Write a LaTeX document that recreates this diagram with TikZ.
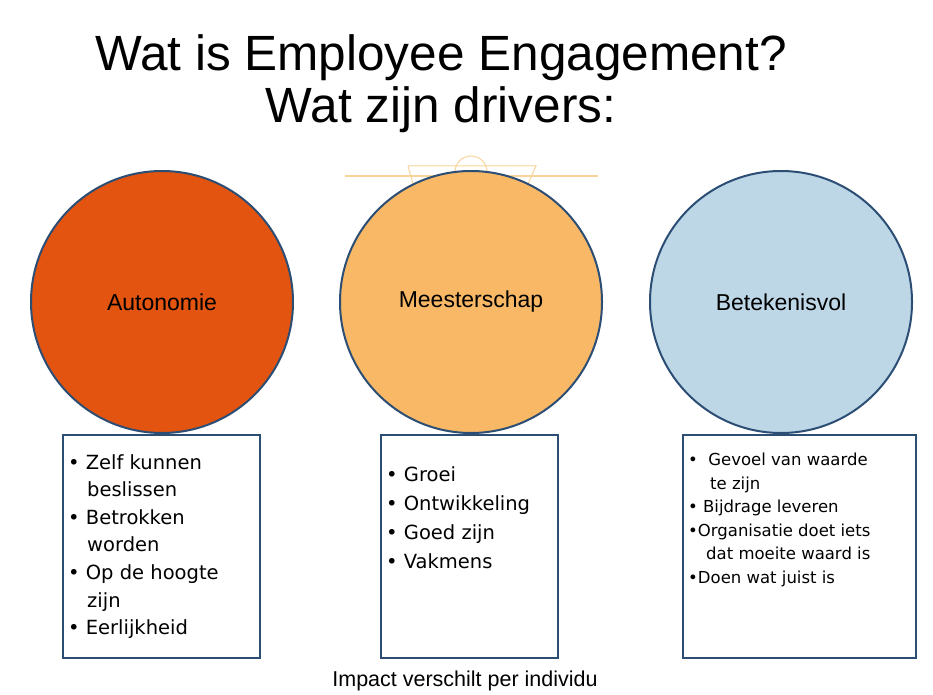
\documentclass[tikz,border=0pt]{standalone}
\usepackage{fontspec}
\setmainfont{Liberation Sans}
\newfontfamily\dv{DejaVu Sans}
\definecolor{cA}{HTML}{E2540F}
\definecolor{cB}{HTML}{F9B866}
\definecolor{cC}{HTML}{BDD7E7}
\definecolor{bd}{HTML}{2C4E75}
\definecolor{deco}{HTML}{F8D49A}
\begin{document}
\begin{tikzpicture}[x=1pt,y=-1pt,
  circ/.style={circle,draw=bd,line width=2pt,minimum size=262pt,inner sep=0pt,font=\fontsize{23}{27}\selectfont},
  lst/.style={anchor=north west,align=left,inner sep=0pt}]
\useasboundingbox (0,0) rectangle (933,695);
\node (t1) at (441,58) {\fontsize{49.5}{56}\selectfont Wat is Employee Engagement?};
\node (t2) at (441,110) {\fontsize{49.5}{56}\selectfont Wat zijn drivers:};
\draw[deco,line width=1.2pt] (345,176) -- (598,176);
\draw[deco,line width=1pt] (408,166) -- (536,166) -- (528,184) (408,166) -- (413,184);
\draw[deco,line width=1pt] (455,172) arc (180:360:16);
\node[circ,fill=cA] (a) at (162,302) {Autonomie};
\node[circ,fill=cB] (b) at (471,302) {Meesterschap};
\node[circ,fill=cC] (c) at (781,302) {Betekenisvol};
\draw[bd,line width=2pt] (63,435) rectangle (260,658);
\draw[bd,line width=2pt] (381,435) rectangle (558,658);
\draw[bd,line width=2pt] (683,435) rectangle (916,658);
\node[lst,font=\dv\fontsize{19.5}{27.6}\selectfont] (la) at (68,454) {%
\textbullet\ Zelf kunnen\\\hspace*{19pt}beslissen\\\textbullet\ Betrokken\\\hspace*{19pt}worden\\\textbullet\ Op de hoogte\\\hspace*{19pt}zijn\\\textbullet\ Eerlijkheid};
\node[lst,font=\dv\fontsize{19.5}{29}\selectfont] (lb) at (386,466) {%
\textbullet\ Groei\\\textbullet\ Ontwikkeling\\\textbullet\ Goed zijn\\\textbullet\ Vakmens};
\node[lst,font=\dv\fontsize{16.5}{23.5}\selectfont] (lc) at (688,453) {%
\textbullet\ \ Gevoel van waarde\\\hspace*{22pt}te zijn\\\textbullet\ Bijdrage leveren\\\textbullet Organisatie doet iets\\\hspace*{18pt}dat moeite waard is\\\textbullet Doen wat juist is};
\node (f) at (465,681) {\fontsize{21.5}{26}\selectfont Impact verschilt per individu};
\end{tikzpicture}
\end{document}
